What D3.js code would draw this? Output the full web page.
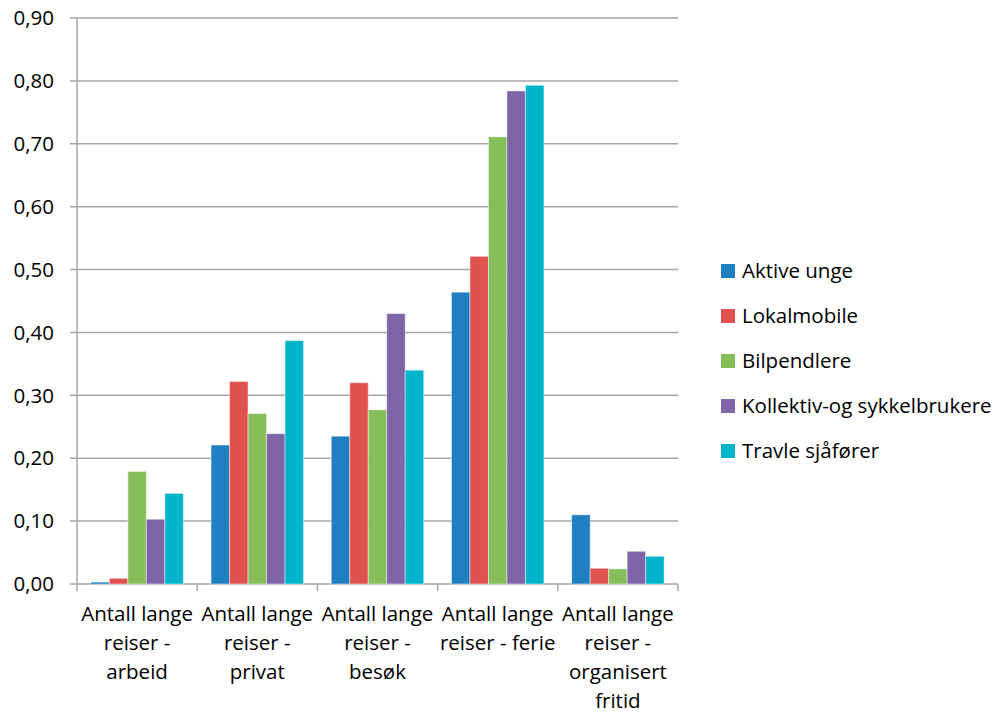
<!DOCTYPE html>
<html>
<head>
<meta charset="utf-8">
<script src="https://cdn.jsdelivr.net/npm/d3@7.9.0/dist/d3.min.js"></script>
<style>
  body { margin: 0; background: #fff; }
  svg text { font-family: "Open Sans", Lato, sans-serif; fill: #000; }
</style>
</head>
<body>
<svg id="chart" width="999" height="715"></svg>
<script>
// categories (each label split into lines as in the original)
const categories = [
  ["Antall lange", "reiser -", "arbeid"],
  ["Antall lange", "reiser -", "privat"],
  ["Antall lange", "reiser -", "besøk"],
  ["Antall lange", "reiser - ferie"],
  ["Antall lange", "reiser -", "organisert", "fritid"]
];
const seriesNames = ["Aktive unge", "Lokalmobile", "Bilpendlere", "Kollektiv-og sykkelbrukere", "Travle sjåfører"];
const seriesColors = ["#1f7fc0", "#e0524f", "#86bf5a", "#8064a8", "#00b4cb"];

// values per series, one per category
const aktiveUnge   = [0.003, 0.221, 0.235, 0.464, 0.110];
const lokalmobile  = [0.009, 0.322, 0.320, 0.521, 0.025];
const bilpendlere  = [0.179, 0.271, 0.277, 0.711, 0.024];
const kollektiv    = [0.103, 0.239, 0.430, 0.784, 0.052];
const travle       = [0.144, 0.387, 0.340, 0.793, 0.044];
const seriesValues = [aktiveUnge, lokalmobile, bilpendlere, kollektiv, travle];

const yTicks = [0, 0.1, 0.2, 0.3, 0.4, 0.5, 0.6, 0.7, 0.8, 0.9];

const margin = { left: 77, right: 321, top: 18, bottom: 131 };
const width = 999, height = 715;
const fontSize = 20.5;
const svg = d3.select("#chart");

const x = d3.scaleBand()
  .domain(d3.range(categories.length))
  .range([margin.left, width - margin.right]);

// Excel gap width 150%: bars take 5/(5+1.5) of each band
const inner = d3.scaleBand()
  .domain(d3.range(seriesNames.length))
  .range([x.bandwidth() * 0.75 / 6.5, x.bandwidth() * 5.75 / 6.5]);

const y = d3.scaleLinear().domain([0, 0.9]).range([height - margin.bottom, margin.top]);

// gridlines
svg.append("g")
  .selectAll("line")
  .data(yTicks)
  .join("line")
  .attr("x1", margin.left - 7)
  .attr("x2", width - margin.right)
  .attr("y1", d => y(d))
  .attr("y2", d => y(d))
  .attr("stroke", "#a6a6a6")
  .attr("stroke-width", 1.5);

// y axis line
svg.append("line")
  .attr("x1", margin.left).attr("x2", margin.left)
  .attr("y1", y(0.9)).attr("y2", y(0))
  .attr("stroke", "#a6a6a6").attr("stroke-width", 1.5);

// y labels
svg.append("g")
  .selectAll("text")
  .data(yTicks)
  .join("text")
  .attr("x", 54)
  .attr("y", d => y(d))
  .attr("dy", "0.35em")
  .attr("text-anchor", "end")
  .attr("font-size", fontSize)
  .text(d => d3.format(".2f")(d).replace(".", ","));

// x ticks
svg.append("g")
  .selectAll("line")
  .data(d3.range(categories.length + 1))
  .join("line")
  .attr("x1", i => margin.left + i * x.step())
  .attr("x2", i => margin.left + i * x.step())
  .attr("y1", y(0))
  .attr("y2", y(0) + 7)
  .attr("stroke", "#a6a6a6").attr("stroke-width", 1.5);

// bars
const groups = svg.append("g")
  .selectAll("g")
  .data(categories.map((c, i) => i))
  .join("g")
  .attr("transform", i => `translate(${x(i)},0)`);

groups.selectAll("rect")
  .data(ci => seriesValues.map((vals, si) => ({ si, v: vals[ci] })))
  .join("rect")
  .attr("x", d => inner(d.si))
  .attr("width", inner.bandwidth())
  .attr("y", d => y(d.v))
  .attr("height", d => y(0) - y(d.v))
  .attr("fill", d => seriesColors[d.si])
  .attr("stroke", "rgba(255,255,255,0.45)")
  .attr("stroke-width", 1);

// x labels
svg.append("g")
  .selectAll("text")
  .data(categories)
  .join("text")
  .attr("x", (d, i) => x(i) + x.bandwidth() / 2)
  .attr("y", 621)
  .attr("text-anchor", "middle")
  .attr("font-size", fontSize)
  .selectAll("tspan")
  .data(d => d)
  .join("tspan")
  .attr("x", function () { return d3.select(this.parentNode).attr("x"); })
  .attr("dy", (d, i) => i === 0 ? 0 : 29)
  .text(d => d);

// legend
const legend = svg.append("g")
  .selectAll("g")
  .data(seriesNames)
  .join("g")
  .attr("transform", (d, i) => `translate(721,${271 + i * 45})`);

legend.append("rect")
  .attr("x", 0).attr("y", -7)
  .attr("width", 14).attr("height", 14)
  .attr("fill", (d, i) => seriesColors[i]);

legend.append("text")
  .attr("x", 21)
  .attr("dy", "0.35em")
  .attr("font-size", fontSize)
  .text(d => d);
</script>
</body>
</html>
